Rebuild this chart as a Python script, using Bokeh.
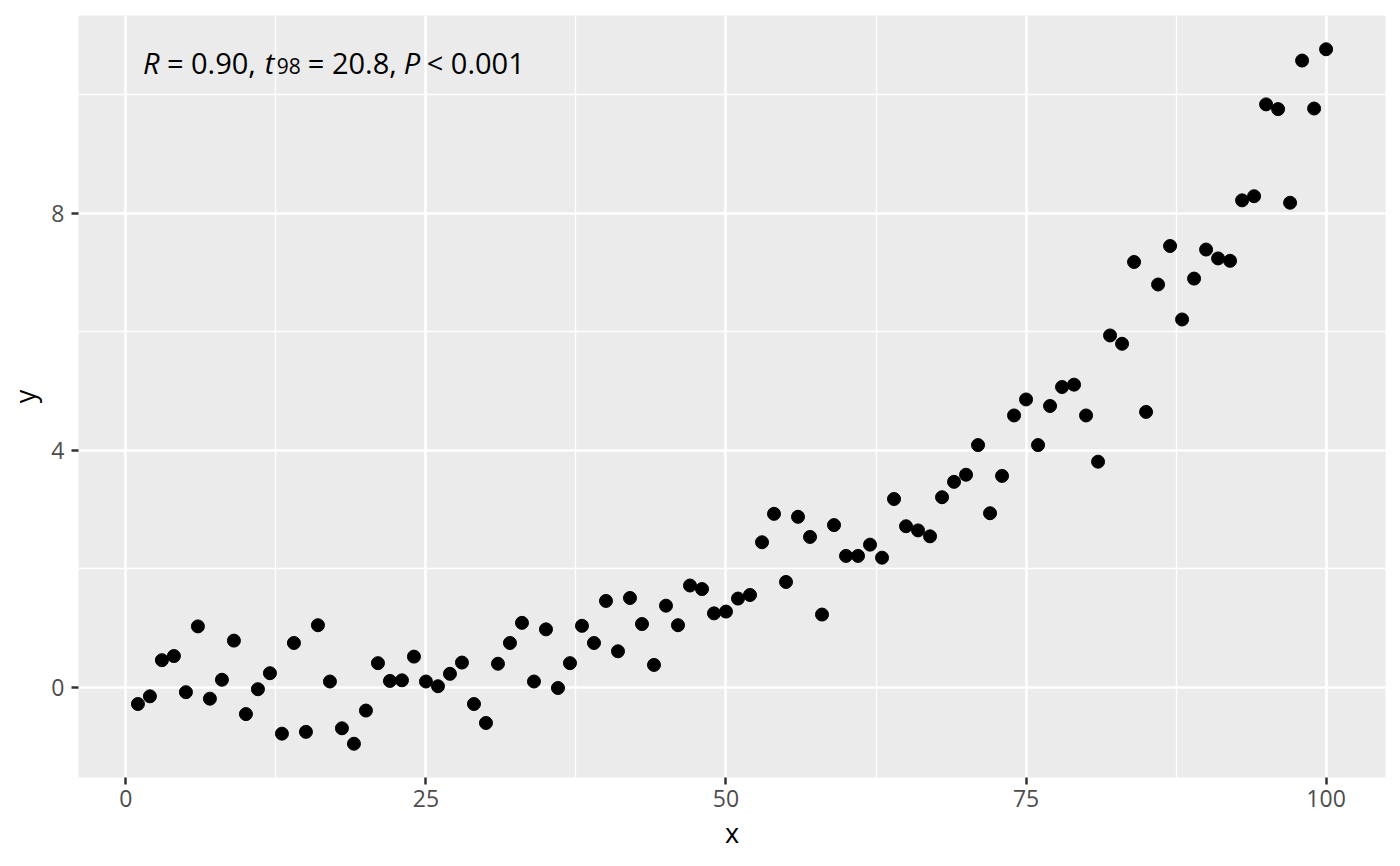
from bokeh.plotting import figure
from bokeh.models import Range1d, Label, FixedTicker
from bokeh.embed import file_html
from bokeh.resources import INLINE

x = list(range(1, 101))
y = [-0.28, -0.15, 0.46, 0.53, -0.08, 1.03, -0.19, 0.13, 0.79, -0.45,
     -0.03, 0.24, -0.78, 0.75, -0.75, 1.05, 0.10, -0.69, -0.95, -0.39,
     0.41, 0.11, 0.12, 0.52, 0.10, 0.02, 0.23, 0.42, -0.28, -0.60,
     0.40, 0.75, 1.09, 0.10, 0.98, -0.01, 0.41, 1.04, 0.75, 1.46,
     0.61, 1.51, 1.07, 0.38, 1.38, 1.05, 1.72, 1.66, 1.25, 1.28,
     1.50, 1.56, 2.45, 2.93, 1.78, 2.88, 2.54, 1.23, 2.74, 2.22,
     2.22, 2.41, 2.19, 3.18, 2.72, 2.65, 2.55, 3.21, 3.47, 3.59,
     4.09, 2.94, 3.57, 4.59, 4.86, 4.09, 4.75, 5.07, 5.11, 4.59,
     3.81, 5.94, 5.80, 7.18, 4.65, 6.80, 7.45, 6.21, 6.90, 7.39,
     7.24, 7.20, 8.22, 8.29, 9.84, 9.76, 8.18, 10.58, 9.77, 10.77]

x_ticks = [0, 25, 50, 75, 100]
x_minor = [12.5, 37.5, 62.5, 87.5]
y_ticks = [0, 4, 8]
y_minor = [2, 6, 10]

FONT = "Open Sans"

p = figure(width=1392, height=858, output_backend="svg", toolbar_location=None,
           title=None, x_range=Range1d(-3.95, 104.95), y_range=Range1d(-1.52, 11.34),
           min_border_left=78, min_border_right=7, min_border_top=15, min_border_bottom=81)
p.background_fill_color = "#EBEBEB"
p.border_fill_color = "white"
p.outline_line_color = None

p.xaxis.ticker = FixedTicker(ticks=x_ticks, minor_ticks=x_minor)
p.yaxis.ticker = FixedTicker(ticks=y_ticks, minor_ticks=y_minor)

for g in (p.xgrid, p.ygrid):
    g.grid_line_color = "white"
    g.grid_line_width = 2.6
    g.minor_grid_line_color = "white"
    g.minor_grid_line_width = 1.3

for ax in (p.xaxis, p.yaxis):
    ax.axis_line_color = None
    ax.minor_tick_line_color = None
    ax.major_tick_line_color = "#333333"
    ax.major_tick_line_width = 2.5
    ax.major_tick_in = 0
    ax.major_tick_out = 7
    ax.major_label_text_font = FONT
    ax.major_label_text_font_size = "23px"
    ax.major_label_text_color = "#4D4D4D"
    ax.axis_label_text_font = FONT
    ax.axis_label_text_font_size = "27px"
    ax.axis_label_text_font_style = "normal"
    ax.axis_label_text_color = "black"

p.xaxis.axis_label = "x"
p.yaxis.axis_label = "y"
p.xaxis.major_label_standoff = 5
p.yaxis.major_label_standoff = 7
p.xaxis.axis_label_standoff = 4
p.yaxis.axis_label_standoff = 5

p.scatter(x, y, size=13, color="black")

# annotation: R = 0.90, t_98 = 20.8, P < 0.001
def px(v):
    return (v - 125) / 12.01

base = 10.55
parts = [
    ("R", 142, base, "italic", "29px"),
    ("= 0.90,", 166, base, "normal", "29px"),
    ("t", 264, base, "italic", "29px"),
    ("98", 276, base - 0.07, "normal", "21px"),
    ("= 20.8,", 307, base, "normal", "29px"),
    ("P", 403, base, "italic", "29px"),
    ("< 0.001", 426, base, "normal", "29px"),
]
for txt, sx, sy, style, size in parts:
    p.add_layout(Label(x=px(sx), y=sy, text=txt, text_font=FONT,
                       text_font_style=style, text_font_size=size,
                       text_baseline="alphabetic", text_color="black"))

open("out.html", "w").write(file_html(p, INLINE))
